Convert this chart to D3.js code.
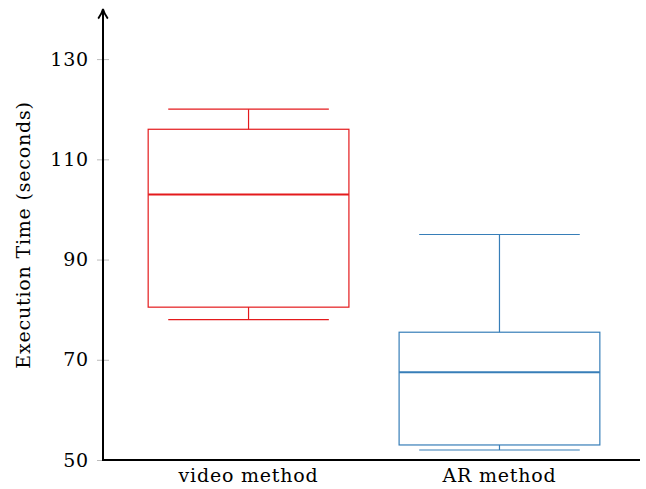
<!DOCTYPE html>
<html>
<head>
<meta charset="utf-8">
<script src="https://cdn.jsdelivr.net/npm/d3@7"></script>
<style>
  body { margin: 0; background: #fff; }
  text { font-family: "DejaVu Serif", serif; letter-spacing: 0.8px; }
</style>
</head>
<body>
<div id="app"></div>
<script>
// categories and box statistics
const categories = ["video method", "AR method"];
const lowWhisker = [78, 52];
const lowerQuartile = [80.5, 53];
const median = [103, 67.5];
const upperQuartile = [116, 75.5];
const highWhisker = [120, 95];
const colors = ["#e41a1c", "#377eb8"];
const yTicks = [50, 70, 90, 110, 130];

const width = 646, height = 489;
const margin = { top: 10, right: 6, bottom: 29, left: 103 };
const fontSize = 19;

const svg = d3.select("#app").append("svg")
  .attr("width", width)
  .attr("height", height);

// x positions 1, 2 on a linear scale like pgfplots
const x = d3.scaleLinear()
  .domain([0.42, 2.56])
  .range([margin.left, width - margin.right]);

const y = d3.scaleLinear()
  .domain([50, 139.8])
  .range([height - margin.bottom, margin.top]);

const boxW = 0.8, capW = 0.64;

/* y ticks */
const yAxis = svg.append("g")
  .attr("transform", `translate(${margin.left},0)`)
  .call(d3.axisLeft(y).tickValues(yTicks).tickSize(0).tickPadding(14));
yAxis.select(".domain").remove();
yAxis.selectAll("text").attr("font-size", fontSize).attr("fill", "#000");
yAxis.selectAll(".tick").append("line")
  .attr("x1", -6).attr("x2", 6)
  .attr("stroke", "#aaa").attr("stroke-width", 0.8);

/* boxes */
const boxes = svg.append("g")
  .selectAll("g")
  .data(categories)
  .enter()
  .append("g")
  .attr("stroke", (d, i) => colors[i])
  .attr("fill", "none");

boxes.each(function(d, i) {
  const g = d3.select(this);
  const cx = x(i + 1);
  // whiskers
  g.append("line")
    .attr("x1", cx).attr("x2", cx)
    .attr("y1", y(highWhisker[i])).attr("y2", y(upperQuartile[i]))
    .attr("stroke-width", 1.2);
  g.append("line")
    .attr("x1", cx).attr("x2", cx)
    .attr("y1", y(lowerQuartile[i])).attr("y2", y(lowWhisker[i]))
    .attr("stroke-width", 1.2);
  [highWhisker[i], lowWhisker[i]].forEach(v => {
    g.append("line")
      .attr("x1", x(i + 1 - capW / 2)).attr("x2", x(i + 1 + capW / 2))
      .attr("y1", y(v)).attr("y2", y(v))
      .attr("stroke-width", 1.2);
  });
  // box
  g.append("rect")
    .attr("x", x(i + 1 - boxW / 2))
    .attr("y", y(upperQuartile[i]))
    .attr("width", x(i + 1 + boxW / 2) - x(i + 1 - boxW / 2))
    .attr("height", y(lowerQuartile[i]) - y(upperQuartile[i]))
    .attr("stroke-width", 1.2);
  // median
  g.append("line")
    .attr("x1", x(i + 1 - boxW / 2)).attr("x2", x(i + 1 + boxW / 2))
    .attr("y1", y(median[i])).attr("y2", y(median[i]))
    .attr("stroke-width", 2);
});

/* x labels */
svg.append("g")
  .selectAll("text")
  .data(categories)
  .enter()
  .append("text")
  .attr("x", (d, i) => x(i + 1))
  .attr("y", height - 7)
  .attr("text-anchor", "middle")
  .attr("font-size", fontSize)
  .text(d => d);

/* axis lines */
const y0 = y(50);
svg.append("defs").append("marker")
  .attr("id", "arrow")
  .attr("viewBox", "0 0 10 10")
  .attr("refX", 9).attr("refY", 5)
  .attr("markerWidth", 6).attr("markerHeight", 6)
  .attr("orient", "auto")
  .append("path")
  .attr("d", "M1,1 Q5,4 9,5 Q5,6 1,9")
  .attr("fill", "none").attr("stroke", "#000").attr("stroke-width", 1.5);

svg.append("line")
  .attr("x1", margin.left).attr("x2", margin.left)
  .attr("y1", y0 + 1).attr("y2", margin.top - 1)
  .attr("stroke", "#000").attr("stroke-width", 2)
  .attr("marker-end", "url(#arrow)");
svg.append("line")
  .attr("x1", margin.left - 1).attr("x2", width - margin.right)
  .attr("y1", y0).attr("y2", y0)
  .attr("stroke", "#000").attr("stroke-width", 2);

/* y label */
svg.append("text")
  .attr("transform", `translate(30,${(y0 + margin.top) / 2}) rotate(-90)`)
  .attr("text-anchor", "middle")
  .attr("font-size", fontSize)
  .text("Execution Time (seconds)");
</script>
</body>
</html>
